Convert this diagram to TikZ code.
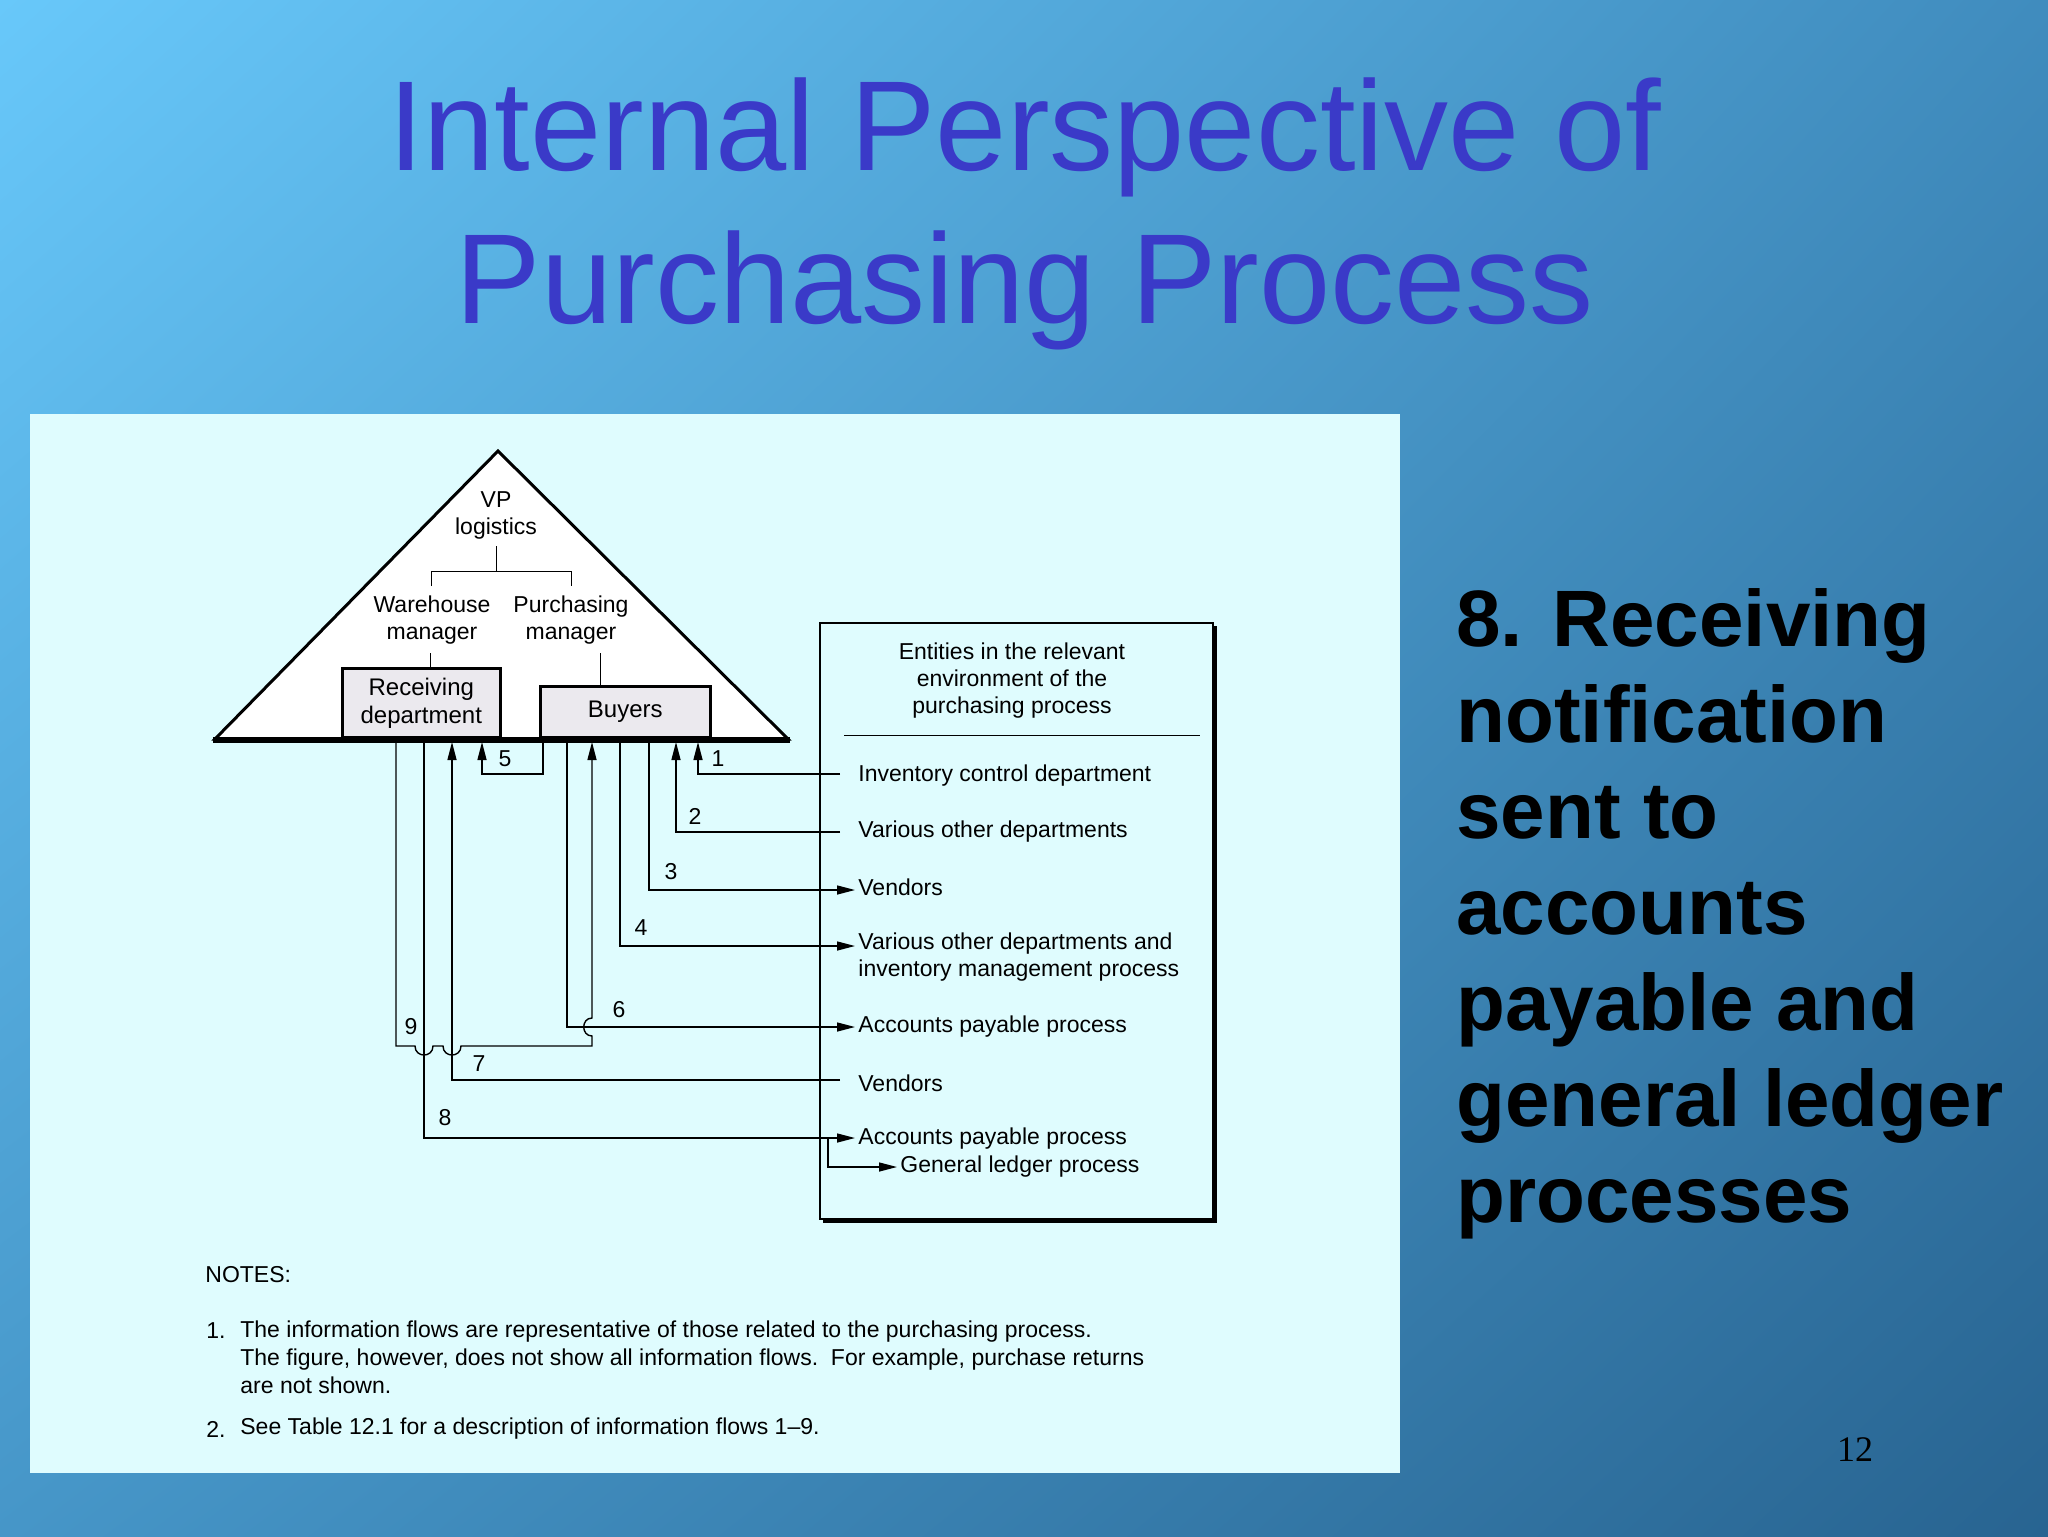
\documentclass[tikz,border=0pt]{standalone}
\usepackage{fontspec}
\setmainfont{Liberation Sans}
\usetikzlibrary{arrows.meta,shadings}
\definecolor{titleblue}{HTML}{3A3AC8}
\definecolor{panel}{HTML}{DFFCFE}
\definecolor{boxgray}{HTML}{EBE9EE}
\definecolor{bgul}{RGB}{104,200,250}
\definecolor{bgur}{RGB}{64,140,190}
\definecolor{bgll}{RGB}{70,150,200}
\definecolor{bglr}{RGB}{40,100,145}
\begin{document}
\begin{tikzpicture}[x=0.5pt,y=-0.5pt,
  lbl/.style={font=\fontsize{11.5}{13.5}\selectfont,inner sep=0pt},
  flow/.style={line width=0.7pt},
  arr/.style={flow,-{Triangle[length=9pt,width=4.5pt]}},
  org/.style={line width=0.4pt},
  unit/.style={draw,line width=1.3pt,fill=boxgray,inner sep=0pt,font=\fontsize{12}{14}\selectfont,align=center}]
\useasboundingbox (0,0) rectangle (2048,1536);
\shade[upper left=bgul,upper right=bgur,lower left=bgll,lower right=bglr] (0,0) rectangle (2048,1536);
% title
\node[text=titleblue,font=\fontsize{64}{70}\selectfont] (t1) at (1025,137) {Internal Perspective of};
\node[text=titleblue,font=\fontsize{64}{70}\selectfont] (t2) at (1025,290) {Purchasing Process};
% right text
\node[anchor=north west,align=left,font=\fontsize{40}{48}\bfseries,inner sep=0pt] (rt) at (1456,588)
 {8. Receiving\\notification\\sent to\\accounts\\payable and\\general ledger\\processes};
\node[font=\fontspec{Liberation Serif}\fontsize{18}{20}\selectfont] (pg) at (1855,1450) {12};
% panel
\fill[panel] (30,414) rectangle (1400,1473);
% triangle
\draw[line width=1.5pt,fill=white,line join=miter] (215,739) -- (498,451) -- (788,739) -- cycle;
\draw[line width=3pt] (213,740) -- (790,740);
\node[lbl,align=center] (vp) at (496,515) {VP\\logistics};
\node[lbl,align=center] (wm) at (432,620) {Warehouse\\manager};
\node[lbl,align=center] (pm) at (571,620) {Purchasing\\manager};
\draw[org] (496,546) -- (496,571) (431,586) |- (571,571) -- (571,586);
\node[unit,minimum width=79pt,minimum height=34.5pt,anchor=south west] (rd) at (341,739) {Receiving\\department};
\node[unit,minimum width=85pt,minimum height=25.5pt,anchor=south west] (by) at (539,739) {Buyers};
\draw[org] (430,653) -- (rd.north -| 430,0);
\draw[org] (600,653) -- (by.north -| 600,0);
% entities box
\draw[line width=0.6pt,fill=panel] (820,623) rectangle (1213,1219);
\draw[line width=2pt] (1215,626) -- (1215,1221) -- (823,1221);
\node[lbl,align=center] (eh) at (1012,681) {Entities in the relevant\\environment of the\\purchasing process};
\draw[org] (844,735) -- (1200,735);
\node[lbl,anchor=west] (e1) at (858,776) {Inventory control department};
\node[lbl,anchor=west] (e2) at (858,832) {Various other departments};
\node[lbl,anchor=west] (e3) at (858,887) {Vendors};
\node[lbl,anchor=west,align=left] (e4) at (858,957) {Various other departments and\\inventory management process};
\node[lbl,anchor=west] (e6) at (858,1027) {Accounts payable process};
\node[lbl,anchor=west] (e7) at (858,1083) {Vendors};
\node[lbl,anchor=west] (e8) at (858,1139) {Accounts payable process};
\node[lbl,anchor=west] (e9) at (900,1167) {General ledger process};
% flows
\draw[arr] (840,774) -| (698,742);
\draw[arr] (840,832) -| (676,742);
\draw[arr] (649,742) |- (855,890);
\draw[arr] (620,742) |- (855,946);
\draw[arr] (567,742) |- (855,1027);
\draw[arr] (543,742) |- (482,774) -- (482,742);
\draw[arr] (396,742) -- (396,1046) -- (415,1046) .. controls (415,1058) and (433,1058) .. (433,1046)
  -- (443,1046) .. controls (443,1058) and (461,1058) .. (461,1046) -- (592,1046) -- (592,1036)
  .. controls (581,1036) and (581,1018) .. (592,1018) -- (592,742);
\draw[arr] (840,1080) -| (452,742);
\draw[arr] (424,742) |- (855,1138);
\draw[arr] (828,1138) |- (897,1167);
\foreach \t/\x/\y in {1/718/759,2/695/816,3/671/872,4/641/928,5/505/759,6/619/1010,7/479/1064,8/445/1118,9/411/1027}
  \node[lbl] (n\t) at (\x,\y) {\t};
% notes
\node[lbl,anchor=west] (nt) at (205,1275) {NOTES:};
\node[lbl,anchor=west] (nn1) at (206,1331) {1.};
\node[lbl,anchor=north west,align=left,font=\fontsize{11.5}{14}\selectfont] (nx1) at (240,1320) {The information flows are representative of those related to the purchasing process.\\The figure, however, does not show all information flows.\ \ For example, purchase returns\\are not shown.};
\node[lbl,anchor=west] (nn2) at (206,1429) {2.};
\node[lbl,anchor=west] (nx2) at (240,1429) {See Table 12.1 for a description of information flows 1–9.};
\end{tikzpicture}
\end{document}
